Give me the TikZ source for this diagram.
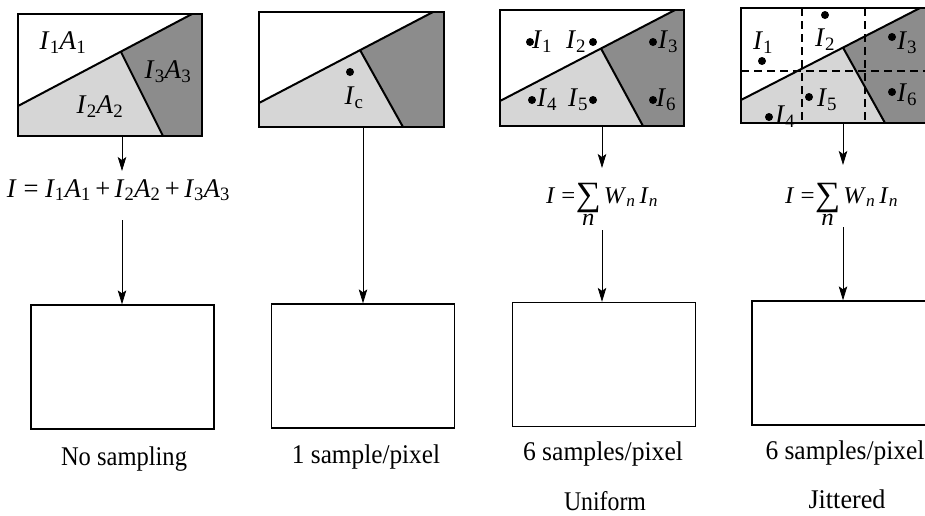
\documentclass[tikz,border=0pt]{standalone}
\usepackage{fontspec}
\setmainfont{Liberation Serif}
\usetikzlibrary{arrows.meta}
\newcommand{\vI}{\textit{I}}
\newcommand{\vA}{\textit{A}}
\newcommand{\vW}{\textit{W}}
\newcommand{\Sb}[1]{\textsubscript{#1}}
\newcommand{\fitw}[2]{\resizebox{#1}{\height}{#2}}
\newcommand{\sumn}{\begin{tabular}[t]{@{}c@{}}\raisebox{-2.5pt}{\fontsize{34}{34}\selectfont ∑}\\[-8pt]\textit{n}\end{tabular}}
\tikzset{
  frame/.style={draw, line width=1.6pt, inner sep=0pt},
  outbox/.style={draw, line width=1.3pt, inner sep=0pt, minimum width=183pt, minimum height=124pt},
  edge/.style={line width=2pt},
  gridline/.style={line width=1.2pt, dash pattern=on 8pt off 5pt},
  light/.style={fill=black!16},
  dark/.style={fill=black!45},
  conn/.style={line width=0.8pt, -{Stealth[length=14pt,width=8.5pt,inset=3pt]}},
  txt/.style={font=\fontsize{27}{30}\selectfont, inner sep=0pt, anchor=base},
  ftxt/.style={font=\fontsize{24}{30}\selectfont, inner sep=0pt, anchor=base},
  lab/.style={font=\fontsize{27}{30}\selectfont, inner sep=0pt},
  dot/.style={fill=black}
}
\begin{document}
\begin{tikzpicture}[x=1pt,y=-1pt]
\useasboundingbox (0,0) rectangle (925,515);
\clip (0,0) rectangle (925,515);

% ---------- panel 1 ----------
\fill[light] (18,106) -- (121,52) -- (163,136) -- (18,136) -- cycle;
\fill[dark] (121,52) -- (192,14) -- (202,14) -- (202,136) -- (163,136) -- cycle;
\draw[edge] (18,106) -- (192,14) (121,52) -- (163,136);
\node[frame, minimum width=184pt, minimum height=122pt] (p1) at (110,75) {};
\node[lab] (p1a) at (63,43) {\vI\Sb{1}\vA\Sb{1}};
\node[lab] (p1c) at (168,72) {\vI\Sb{3}\vA\Sb{3}};
\node[lab] (p1b) at (100,107) {\vI\Sb{2}\vA\Sb{2}};

% ---------- panel 2 ----------
\fill[light] (259,103) -- (360,50) -- (403,127) -- (259,127) -- cycle;
\fill[dark] (360,50) -- (433,12) -- (444,12) -- (444,127) -- (403,127) -- cycle;
\draw[edge] (259,103) -- (433,12) (360,50) -- (403,127);
\node[frame, minimum width=185pt, minimum height=115pt] (p2) at (351.5,69.5) {};
\fill[dot] (350,72) circle (4pt);
\node[lab] (p2c) at (354,98) {\vI\Sb{c}};

% ---------- panel 3 ----------
\fill[light] (500,101) -- (601,48.5) -- (643,126) -- (500,126) -- cycle;
\fill[dark] (601,48.5) -- (675,10) -- (684,10) -- (684,126) -- (643,126) -- cycle;
\draw[edge] (500,101) -- (675,10) (601,48.5) -- (643,126);
\node[frame, minimum width=184pt, minimum height=116pt] (p3) at (592,68) {};
\foreach \x/\y in {530/42,593/42,653/42,532/100,593/100,653/100}
  \fill[dot] (\x,\y) circle (4pt);
\node[lab] (p3i1) at (542,42) {\vI\Sb{1}};
\node[lab] (p3i2) at (576,42) {\vI\Sb{2}};
\node[lab] (p3i3) at (668,42) {\vI\Sb{3}};
\node[lab] (p3i4) at (547,100) {\vI\Sb{4}};
\node[lab] (p3i5) at (578,100) {\vI\Sb{5}};
\node[lab] (p3i6) at (666,100) {\vI\Sb{6}};

% ---------- panel 4 ----------
\fill[light] (741,100) -- (843,47.6) -- (885,123) -- (741,123) -- cycle;
\fill[dark] (843,47.6) -- (920,8) -- (930,8) -- (930,123) -- (885,123) -- cycle;
\draw[gridline] (802,8) -- (802,123) (865,8) -- (865,123) (741,71) -- (930,71);
\draw[edge] (741,100) -- (920,8) (843,47.6) -- (885,123);
\node[frame, minimum width=189pt, minimum height=115pt] (p4) at (835.5,65.5) {};
\foreach \x/\y in {762/61,825/15,892/37,809/97,769/117,892/92}
  \fill[dot] (\x,\y) circle (4pt);
\node[lab] (p4i1) at (763,43) {\vI\Sb{1}};
\node[lab] (p4i2) at (825,40) {\vI\Sb{2}};
\node[lab] (p4i3) at (907,43) {\vI\Sb{3}};
\node[lab] (p4i5) at (827,100) {\vI\Sb{5}};
\node[lab] (p4i4) at (785,117) {\vI\Sb{4}};
\node[lab] (p4i6) at (907,95) {\vI\Sb{6}};

% ---------- formulas ----------
\node[txt] (f1) at (118.5,197) {\fitw{223pt}{\vI\ =\ \vI\Sb{1}\vA\Sb{1}\,+\,\vI\Sb{2}\vA\Sb{2}\,+\,\vI\Sb{3}\vA\Sb{3}}};
\node[ftxt] (f3) at (602,203) {\fitw{112pt}{\vI\ =\hspace{0.5pt}\sumn\hspace{3pt}\vW\Sb{\textit{n}}\,\vI\Sb{\textit{n}}}};
\node[ftxt] (f4) at (841.5,203) {\fitw{113pt}{\vI\ =\hspace{0.5pt}\sumn\hspace{3pt}\vW\Sb{\textit{n}}\,\vI\Sb{\textit{n}}}};

% ---------- output boxes ----------
\node[outbox] (b1) at (122.5,367) {};
\node[outbox] (b2) at (363,366) {};
\node[outbox] (b3) at (604,364.5) {};
\node[outbox, minimum width=190pt] (b4) at (847,363) {};

% ---------- captions ----------
\node[txt] (c1) at (124,465) {\fitw{126pt}{No sampling}};
\node[txt] (c2) at (366,463) {\fitw{148pt}{1 sample/pixel}};
\node[txt] (c3) at (603,460) {\fitw{160pt}{6 samples/pixel}};
\node[txt] (c4) at (845,459) {\fitw{159pt}{6 samples/pixel}};
\node[txt] (c5) at (605,510) {\fitw{82pt}{Uniform}};
\node[txt] (c6) at (847,508) {\fitw{77pt}{Jittered}};

% ---------- connectors ----------
\coordinate (t1) at (122,171);
\coordinate (s1) at (122,220);
\coordinate (t3) at (602,168);
\coordinate (s3) at (602,230);
\coordinate (t4) at (843,165);
\coordinate (s4) at (843,227);
\draw[conn] (p1.south -| t1) -- (t1);
\draw[conn] (s1) -- (s1 |- b1.north);
\draw[conn] (p2.south -| b2.north) -- (b2.north);
\draw[conn] (p3.south -| t3) -- (t3);
\draw[conn] (s3) -- (s3 |- b3.north);
\draw[conn] (p4.south -| t4) -- (t4);
\draw[conn] (s4) -- (s4 |- b4.north);
\end{tikzpicture}
\end{document}
